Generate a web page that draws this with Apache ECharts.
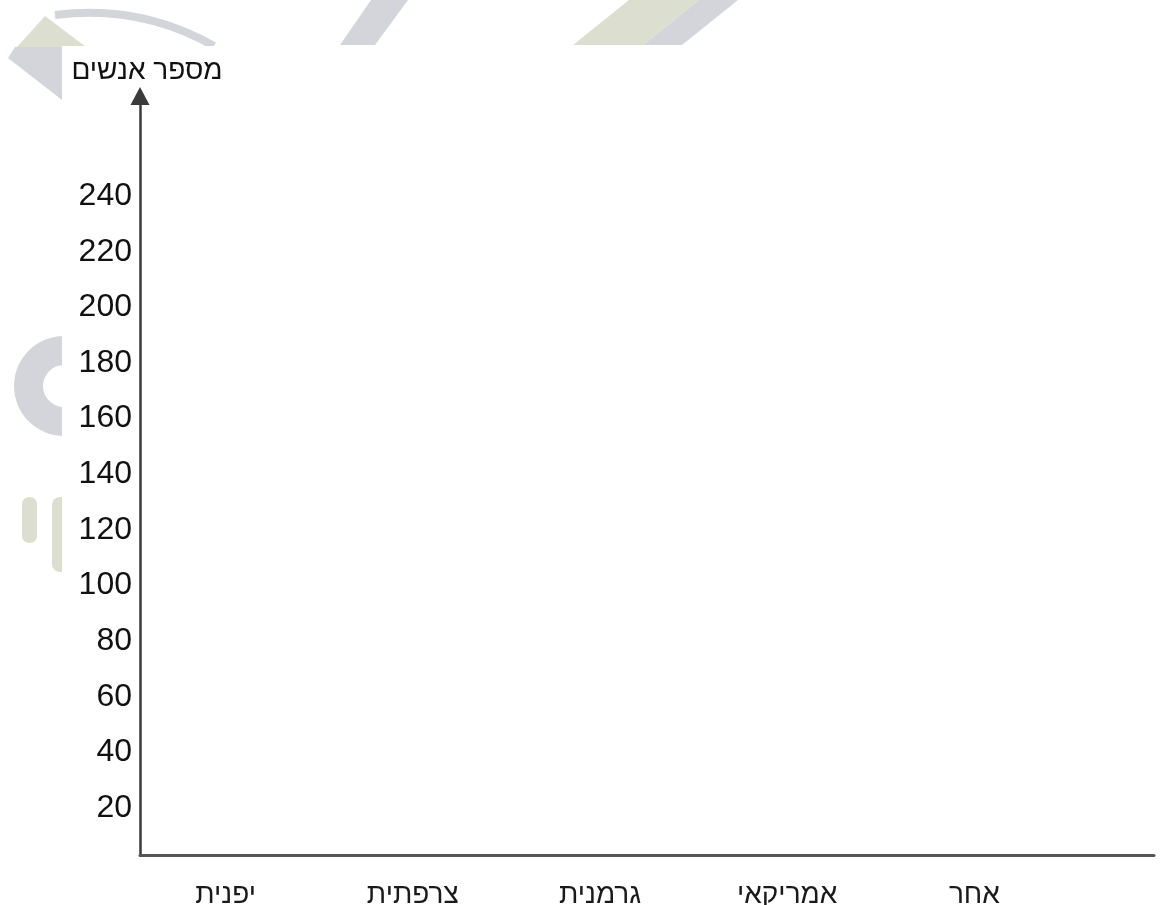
<!DOCTYPE html>
<html><head><meta charset="utf-8">
<script src="https://cdn.jsdelivr.net/npm/echarts@6/dist/echarts.min.js"></script>
<style>html,body{margin:0;padding:0;background:#fff}#c{width:1176px;height:905px}</style>
</head><body><div id="c"></div>
<script>
const categories = ['יפנית', 'צרפתית', 'גרמנית', 'אמריקאי', 'אחר'];
const peopleCounts = [null, null, null, null, null];
const yTickLabels = [20, 40, 60, 80, 100, 120, 140, 160, 180, 200, 220, 240];
const yAxisTitle = 'מספר אנשים';

const FONT = "'Liberation Sans', Arial, sans-serif";
const GRAY = '#d3d5da', GREEN = '#dcdfd0';

const chart = echarts.init(document.getElementById('c'), null, {renderer: 'canvas'});
chart.setOption({
  backgroundColor: '#ffffff',
  animation: false,
  graphic: [
    {type: 'bezierCurve', z: -10, shape: {x1: 55, y1: 15, x2: 214, y2: 46, cpx1: 140, cpy1: 4}, style: {stroke: GRAY, lineWidth: 8, fill: null}},
    {type: 'polygon', z: -9, shape: {points: [[17, 47], [45, 16], [86, 47]]}, style: {fill: GREEN}},
    {type: 'polygon', z: -9, shape: {points: [[15, 47], [62, 47], [62, 100], [8, 58]]}, style: {fill: GRAY}},
    {type: 'polygon', z: -10, shape: {points: [[371, 0], [408, 0], [375, 45], [340, 45]]}, style: {fill: GRAY}},
    {type: 'polygon', z: -10, shape: {points: [[573, 45], [629, 0], [699, 0], [643, 45]]}, style: {fill: GREEN}},
    {type: 'polygon', z: -10, shape: {points: [[643, 45], [699, 0], [738, 0], [682, 45]]}, style: {fill: GRAY}},
    {type: 'ring', z: -10, shape: {cx: 64, cy: 386, r: 50, r0: 21}, style: {fill: GRAY}},
    {type: 'rect', z: -10, shape: {x: 22, y: 497, width: 15, height: 46, r: 7}, style: {fill: GREEN}},
    {type: 'rect', z: -10, shape: {x: 52, y: 497, width: 20, height: 75, r: 8}, style: {fill: GREEN}},
    {type: 'rect', z: -5, shape: {x: 62, y: 46, width: 1114, height: 860}, style: {fill: '#ffffff'}}
  ],
  grid: [
    {left: 140, right: 22, top: 96, bottom: 50, outerBoundsMode: 'none', containLabel: false},
    {left: 132, right: 108, top: 96, bottom: 50, outerBoundsMode: 'none', containLabel: false}
  ],
  xAxis: [
    {
      type: 'category', gridIndex: 0, data: categories,
      axisLine: {show: true, lineStyle: {color: '#555', width: 3}},
      axisTick: {show: false}, axisLabel: {show: false}, splitLine: {show: false}
    },
    {
      type: 'category', gridIndex: 1, data: categories,
      axisLine: {show: false}, axisTick: {show: false}, splitLine: {show: false},
      axisLabel: {show: true, margin: 26, color: '#1a1a1a', fontSize: 28, fontFamily: FONT}
    }
  ],
  yAxis: [
    {
      type: 'value', gridIndex: 0, min: 3.1, max: 276,
      name: yAxisTitle, nameLocation: 'end', nameGap: 11,
      nameTextStyle: {color: '#111', fontSize: 28, fontFamily: FONT, padding: [0, 0, 0, 14]},
      axisLine: {show: true, symbol: ['none', 'triangle'], symbolSize: [19, 18], lineStyle: {color: '#3a3a3a', width: 2.5}},
      axisTick: {show: false, customValues: yTickLabels},
      axisLabel: {show: true, customValues: yTickLabels, margin: 8, color: '#111', fontSize: 32, fontFamily: FONT},
      splitLine: {show: false}
    },
    {
      type: 'value', gridIndex: 1, min: 0, max: 276, show: false,
      axisLine: {show: false}, axisLabel: {show: false}, splitLine: {show: false}
    }
  ],
  series: [
    {type: 'bar', xAxisIndex: 0, yAxisIndex: 0, data: peopleCounts}
  ]
});
</script>
</body></html>
